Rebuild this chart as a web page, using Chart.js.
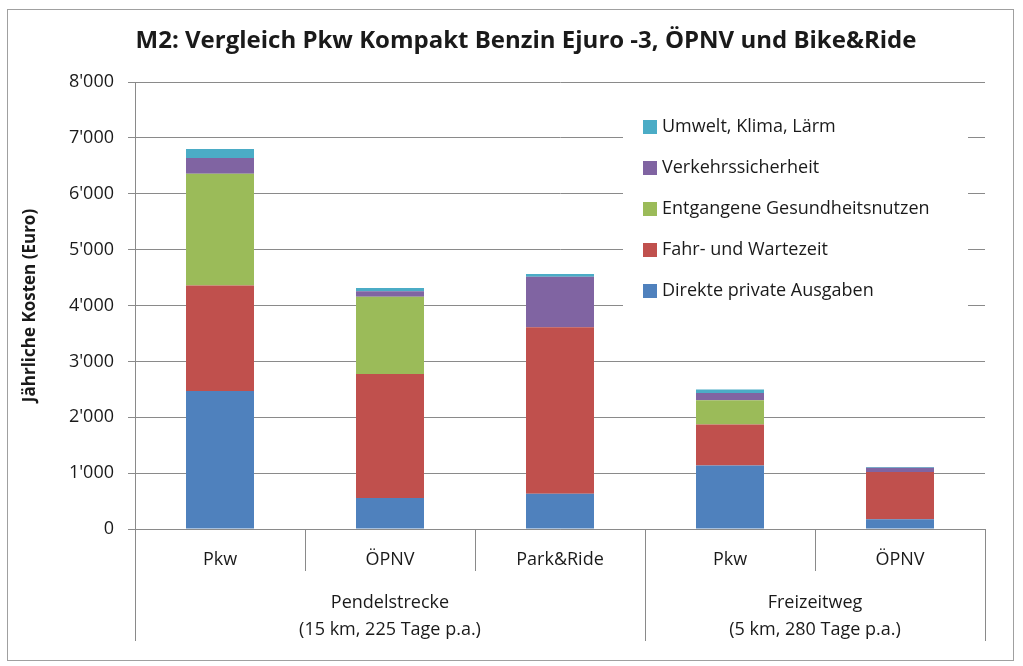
<!DOCTYPE html>
<html>
<head>
<meta charset="utf-8">
<script src="https://cdn.jsdelivr.net/npm/chart.js@4.4.1/dist/chart.umd.min.js"></script>
<style>
  html, body { margin: 0; padding: 0; background: #fff; }
  #wrap { width: 1023px; height: 666px; }
</style>
</head>
<body>
<div id="wrap"><canvas id="chart"></canvas></div>
<script>
    const categories = ['Pkw', 'ÖPNV', 'Park&Ride', 'Pkw', 'ÖPNV'];
    const groupLabels = [['Pendelstrecke', '(15 km, 225 Tage p.a.)'], ['Freizeitweg', '(5 km, 280 Tage p.a.)']];
    const groupSizes = [3, 2];

    const direkteAusgaben = [2470, 555, 630, 1135, 175];
    const fahrWartezeit = [1890, 2220, 2980, 735, 845];
    const gesundheitsnutzen = [2000, 1380, 0, 435, 0];
    const verkehrssicherheit = [280, 100, 905, 130, 75];
    const umweltKlimaLaerm = [160, 60, 50, 60, 15];

    const yTicks = [0, 1000, 2000, 3000, 4000, 5000, 6000, 7000, 8000];

    const titleText = 'M2: Vergleich Pkw Kompakt Benzin Ejuro -3, ÖPNV und Bike&Ride';
    const yTitle = 'Jährliche Kosten (Euro)';
    const font = "'Open Sans', sans-serif";
    const textColor = '#1a1a1a';
    const gridColor = '#8a8a8a';

    function fmt(v) {
        return String(v).replace(/\B(?=(\d{3})+(?!\d))/g, "'");
    }

    // frame, title, category separators, group labels, legend box
    const excelLook = {
        id: 'excelLook',
        beforeDraw(chart) {
            const ctx = chart.ctx;
            ctx.save();
            ctx.strokeStyle = '#a0a0a0';
            ctx.lineWidth = 1;
            ctx.strokeRect(7.5, 9.5, 1006, 651);
            ctx.fillStyle = textColor;
            ctx.font = "bold 24px " + font;
            ctx.textAlign = 'center';
            ctx.textBaseline = 'middle';
            ctx.fillText(titleText, 526, 41);
            ctx.restore();
        },
        afterDatasetsDraw(chart) {
            const ctx = chart.ctx;
            const area = chart.chartArea;
            const items = chart.data.datasets.slice().reverse();
            const boxX = area.right - 362, boxY = area.top + 28;
            ctx.save();
            ctx.fillStyle = '#fff';
            ctx.fillRect(boxX, boxY, 345, 200);
            ctx.font = "18px " + font;
            ctx.textBaseline = 'middle';
            ctx.textAlign = 'left';
            items.forEach((ds, i) => {
                const y = boxY + 17 + i * 41;
                ctx.fillStyle = ds.backgroundColor;
                ctx.fillRect(boxX + 20, y - 7, 14, 14);
                ctx.fillStyle = textColor;
                ctx.fillText(ds.label, boxX + 39, y);
            });
            ctx.restore();
        },
        afterDraw(chart) {
            const ctx = chart.ctx;
            const x = chart.scales.x;
            const bottom = chart.chartArea.bottom;
            const edge = i => {
                if (i === 0) return x.left;
                if (i === categories.length) return x.right;
                return (x.getPixelForValue(i - 1) + x.getPixelForValue(i)) / 2;
            };
            const groupEdges = [0];
            groupSizes.forEach(n => groupEdges.push(groupEdges[groupEdges.length - 1] + n));
            ctx.save();
            ctx.strokeStyle = gridColor;
            ctx.lineWidth = 1;
            for (let i = 0; i <= categories.length; i++) {
                const px = Math.round(edge(i)) + 0.5;
                const len = groupEdges.includes(i) ? 112 : 42;
                ctx.beginPath();
                ctx.moveTo(px, bottom);
                ctx.lineTo(px, bottom + len);
                ctx.stroke();
            }
            ctx.fillStyle = textColor;
            ctx.font = "18px " + font;
            ctx.textAlign = 'center';
            ctx.textBaseline = 'middle';
            groupLabels.forEach((lines, g) => {
                const cx = (edge(groupEdges[g]) + edge(groupEdges[g + 1])) / 2;
                lines.forEach((t, k) => ctx.fillText(t, cx, bottom + 74 + k * 27));
            });
            ctx.restore();
        }
    };

    const ctx = document.getElementById('chart').getContext('2d');
    const chart = new Chart(ctx, {
        type: 'bar',
        data: {
            labels: categories,
            datasets: [
                { label: 'Direkte private Ausgaben', data: direkteAusgaben, backgroundColor: '#4F81BD' },
                { label: 'Fahr- und Wartezeit', data: fahrWartezeit, backgroundColor: '#C0504D' },
                { label: 'Entgangene Gesundheitsnutzen', data: gesundheitsnutzen, backgroundColor: '#9BBB59' },
                { label: 'Verkehrssicherheit', data: verkehrssicherheit, backgroundColor: '#8064A2' },
                { label: 'Umwelt, Klima, Lärm', data: umweltKlimaLaerm, backgroundColor: '#4BACC6' }
            ]
        },
        options: {
            responsive: true,
            maintainAspectRatio: false,
            animation: false,
            layout: { padding: { left: 20, right: 38, top: 82, bottom: 0 } },
            datasets: { bar: { barPercentage: 0.4, categoryPercentage: 1 } },
            plugins: {
                legend: { display: false },
                title: { display: false },
                tooltip: { enabled: false }
            },
            scales: {
                x: {
                    stacked: true,
                    grid: { display: false },
                    border: { display: true, color: gridColor },
                    ticks: { color: textColor, font: { family: font, size: 18 }, padding: 12, maxRotation: 0 },
                    afterFit(scale) { scale.height = 137; }
                },
                y: {
                    stacked: true,
                    min: yTicks[0],
                    max: yTicks[yTicks.length - 1],
                    afterBuildTicks(scale) { scale.ticks = yTicks.map(v => ({ value: v })); },
                    grid: { color: gridColor, tickLength: 7 },
                    border: { display: true, color: gridColor },
                    ticks: { color: textColor, font: { family: font, size: 18 }, padding: 14, callback: v => fmt(v) },
                    title: { display: true, text: yTitle, color: textColor, font: { family: font, size: 17, weight: 'bold' }, padding: 0 },
                    afterFit(scale) { scale.width = 115; }
                }
            }
        },
        plugins: [excelLook]
    });
</script>
</body>
</html>
